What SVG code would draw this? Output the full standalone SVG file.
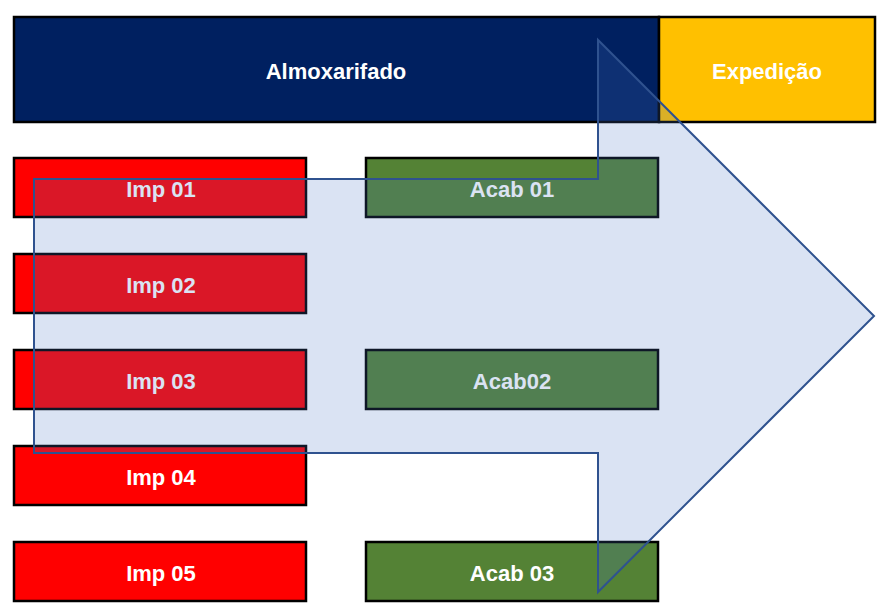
<svg xmlns="http://www.w3.org/2000/svg" width="877" height="613" viewBox="0 0 877 613">
<style>
.box{stroke:#000;stroke-width:2.5}
.t{font-family:"Liberation Sans",Arial,sans-serif;font-weight:bold;font-size:22px;fill:#fff;text-anchor:middle}
.imp{fill:#FF0000}
.acab{fill:#548235}
</style>
<rect width="877" height="613" fill="#fff"/>
<g id="almoxarifado"><rect class="box" x="14" y="17" width="645" height="105" fill="#002060"/><text class="t" x="336" y="79">Almoxarifado</text></g>
<g id="expedicao"><rect class="box" x="659" y="17" width="216" height="105" fill="#FFC000"/><text class="t" x="767" y="79">Expedição</text></g>
<g id="imp01"><rect class="box imp" x="14" y="158" width="292" height="59"/><text class="t" x="161" y="197">Imp 01</text></g>
<g id="imp02"><rect class="box imp" x="14" y="254" width="292" height="59"/><text class="t" x="161" y="293">Imp 02</text></g>
<g id="imp03"><rect class="box imp" x="14" y="350" width="292" height="59"/><text class="t" x="161" y="389">Imp 03</text></g>
<g id="imp04"><rect class="box imp" x="14" y="446" width="292" height="59"/><text class="t" x="161" y="485">Imp 04</text></g>
<g id="imp05"><rect class="box imp" x="14" y="542" width="292" height="59"/><text class="t" x="161" y="581">Imp 05</text></g>
<g id="acab01"><rect class="box acab" x="366" y="158" width="292" height="59"/><text class="t" x="512" y="197">Acab 01</text></g>
<g id="acab02"><rect class="box acab" x="366" y="350" width="292" height="59"/><text class="t" x="512" y="389">Acab02</text></g>
<g id="acab03"><rect class="box acab" x="366" y="542" width="292" height="59"/><text class="t" x="512" y="581">Acab 03</text></g>
<g id="connectors">
<polygon points="34,179 598,179 598,40 874,316 598,592 598,453 34,453" fill="#4472C4" fill-opacity="0.2" stroke="#2F528F" stroke-width="2" stroke-linejoin="miter"/>
</g>
</svg>
